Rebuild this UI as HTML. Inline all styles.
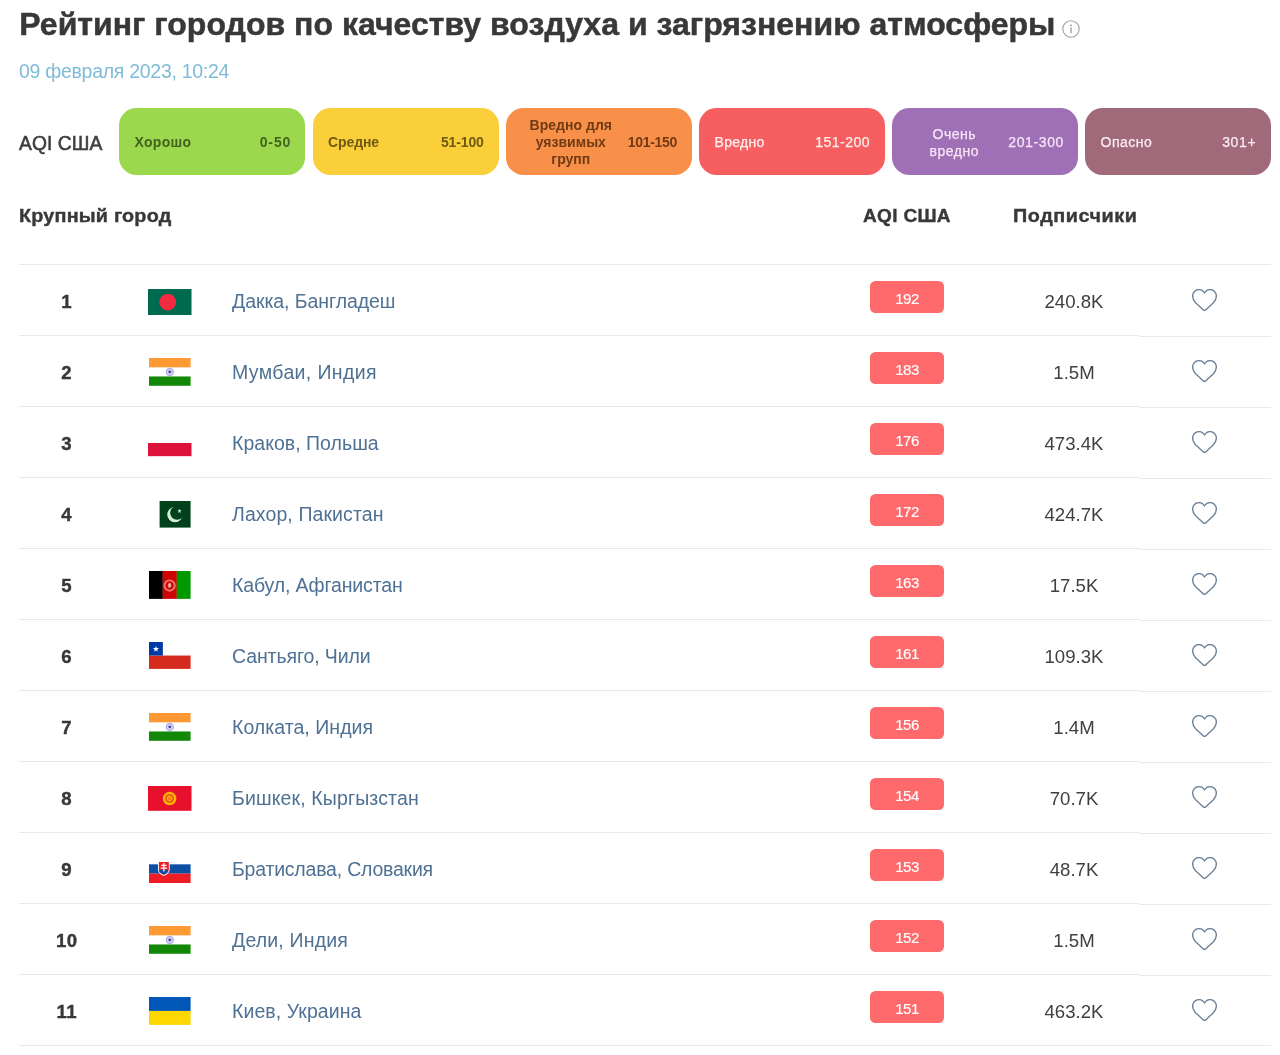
<!DOCTYPE html>
<html lang="ru">
<head>
<meta charset="utf-8">
<title>Рейтинг городов по качеству воздуха</title>
<style>
*{box-sizing:border-box;margin:0;padding:0}
html,body{width:1280px;height:1055px;background:#fff;overflow:hidden}
body{position:relative;font-family:"Liberation Sans",sans-serif;color:#3b3b3b}
h1{position:absolute;left:19.300px;top:4.400px;font-size:32px;line-height:40px;font-weight:bold;color:#383838;white-space:nowrap;letter-spacing:0.020px;-webkit-text-stroke:0.500px #383838}
.info{position:absolute;left:1061.600px;top:19.700px}
.date{position:absolute;left:19px;top:57.500px;font-size:19.500px;line-height:26px;color:#7fbcd8;white-space:nowrap;letter-spacing:-0.290px}
.lgt{position:absolute;left:19px;top:131.200px;font-size:19.300px;line-height:26px;color:#3e3e3e;white-space:nowrap;-webkit-text-stroke:0.550px #3e3e3e;letter-spacing:0.050px}
.lg{position:absolute;top:108px;width:186px;height:67px;border-radius:17.500px;font-size:14px;font-weight:bold;display:flex;align-items:center;justify-content:space-between;padding:2.500px 15px 0 15.500px;line-height:17.200px;letter-spacing:0.300px}
.lg.lt{font-weight:normal;-webkit-text-stroke:0.250px currentColor;letter-spacing:0.500px}
.lg .n.m{text-align:center;width:97px}
.th{position:absolute;top:203px;font-size:19px;line-height:26px;font-weight:bold;color:#383838;white-space:nowrap;-webkit-text-stroke:0.400px #383838}
.ln{position:absolute;left:19px;width:1252px;height:1px;background:#e9e9e9}
.row{position:absolute;left:0;width:1280px;height:71px}
.rk{position:absolute;left:36.700px;width:60px;top:25px;text-align:center;font-size:18.600px;letter-spacing:0.300px;line-height:26px;font-weight:bold;color:#383838;-webkit-text-stroke:0.400px #383838}
.fl{position:absolute;display:block}
.ct{position:absolute;left:232px;top:24px;font-size:19.500px;line-height:26px;color:#4f7194;white-space:nowrap}
.bd{position:absolute;left:870px;top:17.300px;width:74px;height:32px;border-radius:5.500px;background:#fe6a6b;color:#fff;font-size:15px;line-height:35.200px;text-align:center;letter-spacing:-0.450px;-webkit-text-stroke:0.150px #fff}
.fo{position:absolute;left:1014px;width:120px;top:24.500px;text-align:center;font-size:18.600px;line-height:26px;color:#3f3f3f}
.heart{position:absolute;left:1192.200px;top:25.100px}
</style>
</head>
<body>
<h1>Рейтинг городов по качеству воздуха и загрязнению атмосферы</h1>
<svg class="info" width="18" height="18" viewBox="0 0 18 18"><circle cx="9" cy="9" r="8.200" fill="none" stroke="#9aa0a6" stroke-width="1.100"/><rect x="8.400" y="7.600" width="1.200" height="5.600" fill="#8a9096"/><circle cx="9" cy="5.300" r="0.900" fill="#8a9096"/></svg>
<div class="date">09 февраля 2023, 10:24</div>
<div class="lgt">AQI США</div>
<div class="lg" style="left:119px;background:#9cd84e;color:#42621d"><span class="n" style="letter-spacing:0.32px">Хорошо</span><span class="r" style="letter-spacing:0.9px;margin-right:-1.30px">0-50</span></div>
<div class="lg" style="left:312.5px;background:#facf39;color:#705914"><span class="n" style="letter-spacing:-0.1px">Средне</span><span class="r" style="letter-spacing:-0.12px;margin-right:-0.28px">51-100</span></div>
<div class="lg" style="left:506px;background:#f99049;color:#703a15"><span class="n m" style="margin-left:0.800px;letter-spacing:0.03px">Вредно для<br>уязвимых<br>групп</span><span class="r" style="letter-spacing:-0.28px;margin-right:-0.12px">101-150</span></div>
<div class="lg lt" style="left:699px;background:#f65e5f;color:#fff0f0"><span class="n" style="letter-spacing:0.3px">Вредно</span><span class="r" style="letter-spacing:0.5px;margin-right:-0.10px">151-200</span></div>
<div class="lg lt" style="left:892px;background:#a070b6;color:#f6e6f8"><span class="n m" style="margin-left:-1.700px;letter-spacing:0.55px">Очень<br>вредно</span><span class="r" style="letter-spacing:0.63px;margin-right:-1.03px">201-300</span></div>
<div class="lg lt" style="left:1085px;background:#a06a7b;color:#f9eef2"><span class="n" style="letter-spacing:0.5px">Опасно</span><span class="r" style="letter-spacing:0.63px;margin-right:-0.23px">301+</span></div>
<div class="th" style="left:19px;transform:scaleX(1.04);transform-origin:0 0;letter-spacing:0.2px">Крупный город</div>
<div class="th" style="left:863px;letter-spacing:0.33px">AQI США</div>
<div class="th" style="left:1012.5px;transform:scaleX(1.04);transform-origin:0 0;letter-spacing:0.55px">Подписчики</div>
<div class="ln" style="top:264px"></div>
<div class="ln" style="top:335px;width:1120px"></div><div class="ln" style="top:336px;left:1139px;width:132px"></div>
<div class="ln" style="top:406px;width:1120px"></div><div class="ln" style="top:407px;left:1139px;width:132px"></div>
<div class="ln" style="top:477px;width:1120px"></div><div class="ln" style="top:478px;left:1139px;width:132px"></div>
<div class="ln" style="top:548px;width:1120px"></div><div class="ln" style="top:549px;left:1139px;width:132px"></div>
<div class="ln" style="top:619px;width:1120px"></div><div class="ln" style="top:620px;left:1139px;width:132px"></div>
<div class="ln" style="top:690px;width:1120px"></div><div class="ln" style="top:691px;left:1139px;width:132px"></div>
<div class="ln" style="top:761px;width:1120px"></div><div class="ln" style="top:762px;left:1139px;width:132px"></div>
<div class="ln" style="top:832px;width:1120px"></div><div class="ln" style="top:833px;left:1139px;width:132px"></div>
<div class="ln" style="top:903px;width:1120px"></div><div class="ln" style="top:904px;left:1139px;width:132px"></div>
<div class="ln" style="top:974px;width:1120px"></div><div class="ln" style="top:975px;left:1139px;width:132px"></div>
<div class="ln" style="top:1045px"></div>
<div class="row" style="top:264px"><div class="rk">1</div><svg class="fl" style="left:148.1px;top:24.75px" width="43.5" height="26" viewBox="0 0 43.5 26" preserveAspectRatio="none"><rect width="43.5" height="26" fill="#006a4e"/><circle cx="19.700" cy="13.100" r="8.400" fill="#f42a41"/></svg><div class="ct" style="letter-spacing:-0.06px">Дакка, Бангладеш</div><div class="bd">192</div><div class="fo">240.8K</div><svg class="heart" viewBox="0 0 25 22" width="25" height="22"><path d="M12.5 4C11.4 2.100 9.300 0.650 6.900 0.650C3.400 0.650 0.650 3.400 0.650 6.900C0.650 9.600 1.900 12 3.600 13.700L11.100 20.700C11.900 21.500 13.100 21.500 13.900 20.700L21.400 13.700C23.100 12 24.350 9.600 24.350 6.900C24.350 3.400 21.600 0.650 18.100 0.650C15.700 0.650 13.600 2.100 12.500 4Z" fill="none" stroke="#6b8198" stroke-width="1.350" stroke-linejoin="round"/></svg></div>
<div class="row" style="top:335px"><div class="rk">2</div><svg class="fl" style="left:149px;top:23.20px" width="41.6" height="27.8" viewBox="0 0 42 28" preserveAspectRatio="none"><rect width="42" height="28" fill="#fff"/><rect width="42" height="9.400" fill="#ff9933"/><rect y="18.600" width="42" height="9.400" fill="#138808"/><circle cx="21" cy="14" r="3.700" fill="#d4d4f2" stroke="#9c9cdc" stroke-width="0.900"/><circle cx="21" cy="14" r="1.400" fill="#4545a8"/></svg><div class="ct" style="letter-spacing:0.37px">Мумбаи, Индия</div><div class="bd">183</div><div class="fo">1.5M</div><svg class="heart" viewBox="0 0 25 22" width="25" height="22"><path d="M12.5 4C11.4 2.100 9.300 0.650 6.900 0.650C3.400 0.650 0.650 3.400 0.650 6.900C0.650 9.600 1.900 12 3.600 13.700L11.100 20.700C11.900 21.500 13.100 21.500 13.900 20.700L21.400 13.700C23.100 12 24.350 9.600 24.350 6.900C24.350 3.400 21.600 0.650 18.100 0.650C15.700 0.650 13.600 2.100 12.500 4Z" fill="none" stroke="#6b8198" stroke-width="1.350" stroke-linejoin="round"/></svg></div>
<div class="row" style="top:406px"><div class="rk">3</div><svg class="fl" style="left:148.1px;top:23.40px" width="43.5" height="27.2" viewBox="0 0 43.5 27.2" preserveAspectRatio="none"><rect width="43.5" height="14" fill="#fff"/><rect y="14" width="43.5" height="13.200" fill="#dc143c"/></svg><div class="ct" style="letter-spacing:0.03px">Краков, Польша</div><div class="bd">176</div><div class="fo">473.4K</div><svg class="heart" viewBox="0 0 25 22" width="25" height="22"><path d="M12.5 4C11.4 2.100 9.300 0.650 6.900 0.650C3.400 0.650 0.650 3.400 0.650 6.900C0.650 9.600 1.900 12 3.600 13.700L11.100 20.700C11.900 21.500 13.100 21.500 13.900 20.700L21.400 13.700C23.100 12 24.350 9.600 24.350 6.900C24.350 3.400 21.600 0.650 18.100 0.650C15.700 0.650 13.600 2.100 12.500 4Z" fill="none" stroke="#6b8198" stroke-width="1.350" stroke-linejoin="round"/></svg></div>
<div class="row" style="top:477px"><div class="rk">4</div><svg class="fl" style="left:149px;top:24.00px" width="41.6" height="26.6" viewBox="0 0 42 27" preserveAspectRatio="none"><rect width="42" height="27" fill="#fff"/><rect x="10.700" width="31.300" height="27" fill="#01411c"/><circle cx="26.200" cy="13.800" r="7.800" fill="#d6f0d8"/><circle cx="28.300" cy="12" r="7" fill="#01411c"/><polygon points="30.800,7.900 31.350,9.500 33,9.500 31.650,10.500 32.150,12.100 30.800,11.150 29.450,12.100 29.950,10.500 28.600,9.500 30.250,9.500" fill="#d6f0d8"/></svg><div class="ct" style="letter-spacing:0.1px">Лахор, Пакистан</div><div class="bd">172</div><div class="fo">424.7K</div><svg class="heart" viewBox="0 0 25 22" width="25" height="22"><path d="M12.5 4C11.4 2.100 9.300 0.650 6.900 0.650C3.400 0.650 0.650 3.400 0.650 6.900C0.650 9.600 1.900 12 3.600 13.700L11.100 20.700C11.900 21.500 13.100 21.500 13.900 20.700L21.400 13.700C23.100 12 24.350 9.600 24.350 6.900C24.350 3.400 21.600 0.650 18.100 0.650C15.700 0.650 13.600 2.100 12.500 4Z" fill="none" stroke="#6b8198" stroke-width="1.350" stroke-linejoin="round"/></svg></div>
<div class="row" style="top:548px"><div class="rk">5</div><svg class="fl" style="left:149px;top:23.10px" width="41.6" height="27.9" viewBox="0 0 42 28" preserveAspectRatio="none"><rect width="14" height="28" fill="#000"/><rect x="13.800" width="14.400" height="28" fill="#cf0505"/><rect x="28" width="14" height="28" fill="#009a00"/><circle cx="20.800" cy="14.600" r="5.200" fill="none" stroke="#ea7c6e" stroke-width="1.900"/><circle cx="20.800" cy="14.900" r="1.900" fill="#ee9a8e"/><circle cx="20.800" cy="13.100" r="1" fill="#fde4de"/></svg><div class="ct" style="letter-spacing:-0.14px">Кабул, Афганистан</div><div class="bd">163</div><div class="fo">17.5K</div><svg class="heart" viewBox="0 0 25 22" width="25" height="22"><path d="M12.5 4C11.4 2.100 9.300 0.650 6.900 0.650C3.400 0.650 0.650 3.400 0.650 6.900C0.650 9.600 1.900 12 3.600 13.700L11.100 20.700C11.900 21.500 13.100 21.500 13.900 20.700L21.400 13.700C23.100 12 24.350 9.600 24.350 6.900C24.350 3.400 21.600 0.650 18.100 0.650C15.700 0.650 13.600 2.100 12.500 4Z" fill="none" stroke="#6b8198" stroke-width="1.350" stroke-linejoin="round"/></svg></div>
<div class="row" style="top:619px"><div class="rk">6</div><svg class="fl" style="left:149px;top:23.40px" width="41.6" height="26.9" viewBox="0 0 42 27" preserveAspectRatio="none"><rect width="42" height="27" fill="#fff"/><rect y="13.600" width="42" height="13.400" fill="#d52b1e"/><rect width="14" height="13.600" fill="#0039a6"/><polygon points="7,3.900 7.800,6.100 10.100,6.100 8.250,7.500 8.950,9.700 7,8.350 5.050,9.700 5.750,7.500 3.900,6.100 6.200,6.100" fill="#fff"/></svg><div class="ct" style="letter-spacing:-0.11px">Сантьяго, Чили</div><div class="bd">161</div><div class="fo">109.3K</div><svg class="heart" viewBox="0 0 25 22" width="25" height="22"><path d="M12.5 4C11.4 2.100 9.300 0.650 6.900 0.650C3.400 0.650 0.650 3.400 0.650 6.900C0.650 9.600 1.900 12 3.600 13.700L11.100 20.700C11.900 21.500 13.100 21.500 13.900 20.700L21.400 13.700C23.100 12 24.350 9.600 24.350 6.900C24.350 3.400 21.600 0.650 18.100 0.650C15.700 0.650 13.600 2.100 12.500 4Z" fill="none" stroke="#6b8198" stroke-width="1.350" stroke-linejoin="round"/></svg></div>
<div class="row" style="top:690px"><div class="rk">7</div><svg class="fl" style="left:149px;top:23.20px" width="41.6" height="27.8" viewBox="0 0 42 28" preserveAspectRatio="none"><rect width="42" height="28" fill="#fff"/><rect width="42" height="9.400" fill="#ff9933"/><rect y="18.600" width="42" height="9.400" fill="#138808"/><circle cx="21" cy="14" r="3.700" fill="#d4d4f2" stroke="#9c9cdc" stroke-width="0.900"/><circle cx="21" cy="14" r="1.400" fill="#4545a8"/></svg><div class="ct" style="letter-spacing:0.04px">Колката, Индия</div><div class="bd">156</div><div class="fo">1.4M</div><svg class="heart" viewBox="0 0 25 22" width="25" height="22"><path d="M12.5 4C11.4 2.100 9.300 0.650 6.900 0.650C3.400 0.650 0.650 3.400 0.650 6.900C0.650 9.600 1.900 12 3.600 13.700L11.100 20.700C11.900 21.500 13.100 21.500 13.900 20.700L21.400 13.700C23.100 12 24.350 9.600 24.350 6.900C24.350 3.400 21.600 0.650 18.100 0.650C15.700 0.650 13.600 2.100 12.500 4Z" fill="none" stroke="#6b8198" stroke-width="1.350" stroke-linejoin="round"/></svg></div>
<div class="row" style="top:761px"><div class="rk">8</div><svg class="fl" style="left:148.1px;top:25.00px" width="43.5" height="24.8" viewBox="0 0 43.5 24.8" preserveAspectRatio="none"><rect width="43.5" height="24.800" fill="#e8112d"/><circle cx="21.600" cy="12.500" r="6.800" fill="#ffb300"/><circle cx="21.600" cy="12.500" r="3.600" fill="none" stroke="#e8391d" stroke-width="1.300"/><path d="M19.600 10.500l4 4m0-4l-4 4" stroke="#e8591d" stroke-width="0.800"/></svg><div class="ct" style="letter-spacing:0.13px">Бишкек, Кыргызстан</div><div class="bd">154</div><div class="fo">70.7K</div><svg class="heart" viewBox="0 0 25 22" width="25" height="22"><path d="M12.5 4C11.4 2.100 9.300 0.650 6.900 0.650C3.400 0.650 0.650 3.400 0.650 6.900C0.650 9.600 1.900 12 3.600 13.700L11.100 20.700C11.900 21.500 13.100 21.500 13.900 20.700L21.400 13.700C23.100 12 24.350 9.600 24.350 6.900C24.350 3.400 21.600 0.650 18.100 0.650C15.700 0.650 13.600 2.100 12.500 4Z" fill="none" stroke="#6b8198" stroke-width="1.350" stroke-linejoin="round"/></svg></div>
<div class="row" style="top:832px"><div class="rk">9</div><svg class="fl" style="left:149px;top:22.70px" width="41.6" height="28" viewBox="0 0 42 28" preserveAspectRatio="none"><rect width="42" height="28" fill="#fff"/><rect y="9.330" width="42" height="9.340" fill="#0b4ea2"/><rect y="18.670" width="42" height="9.330" fill="#ee1c25"/><path d="M9.100 6.300h11.800v8.200c0 3.400-3.400 5.400-5.900 6.600-2.500-1.200-5.900-3.200-5.900-6.600z" fill="#fff"/><path d="M10 6.900h10v7.500c0 2.800-2.800 4.500-5 5.500-2.200-1-5-2.700-5-5.500z" fill="#ee1c25"/><path d="M10.300 15.900c1-1.400 2.500-1.600 3.300-.8.600-1 1.800-1 2.400 0 .8-.8 2.300-.6 3.300.8-.8 1.700-2.800 2.800-4.500 3.600-1.700-.8-3.700-1.900-4.500-3.600z" fill="#0b4ea2"/><path d="M14.350 7.900h1.300v1.900h2v1.250h-2v1.400h2.600v1.250h-2.600v2.900h-1.300v-2.900h-2.600v-1.250h2.600v-1.400h-2v-1.250h2z" fill="#fff"/></svg><div class="ct" style="letter-spacing:-0.21px">Братислава, Словакия</div><div class="bd">153</div><div class="fo">48.7K</div><svg class="heart" viewBox="0 0 25 22" width="25" height="22"><path d="M12.5 4C11.4 2.100 9.300 0.650 6.900 0.650C3.400 0.650 0.650 3.400 0.650 6.900C0.650 9.600 1.900 12 3.600 13.700L11.100 20.700C11.900 21.500 13.100 21.500 13.900 20.700L21.400 13.700C23.100 12 24.350 9.600 24.350 6.900C24.350 3.400 21.600 0.650 18.100 0.650C15.700 0.650 13.600 2.100 12.500 4Z" fill="none" stroke="#6b8198" stroke-width="1.350" stroke-linejoin="round"/></svg></div>
<div class="row" style="top:903px"><div class="rk">10</div><svg class="fl" style="left:149px;top:23.20px" width="41.6" height="27.8" viewBox="0 0 42 28" preserveAspectRatio="none"><rect width="42" height="28" fill="#fff"/><rect width="42" height="9.400" fill="#ff9933"/><rect y="18.600" width="42" height="9.400" fill="#138808"/><circle cx="21" cy="14" r="3.700" fill="#d4d4f2" stroke="#9c9cdc" stroke-width="0.900"/><circle cx="21" cy="14" r="1.400" fill="#4545a8"/></svg><div class="ct" style="letter-spacing:0.17px">Дели, Индия</div><div class="bd">152</div><div class="fo">1.5M</div><svg class="heart" viewBox="0 0 25 22" width="25" height="22"><path d="M12.5 4C11.4 2.100 9.300 0.650 6.900 0.650C3.400 0.650 0.650 3.400 0.650 6.900C0.650 9.600 1.900 12 3.600 13.700L11.100 20.700C11.900 21.500 13.100 21.500 13.900 20.700L21.400 13.700C23.100 12 24.350 9.600 24.350 6.900C24.350 3.400 21.600 0.650 18.100 0.650C15.700 0.650 13.600 2.100 12.500 4Z" fill="none" stroke="#6b8198" stroke-width="1.350" stroke-linejoin="round"/></svg></div>
<div class="row" style="top:974px"><div class="rk">11</div><svg class="fl" style="left:149px;top:23.10px" width="41.6" height="27.9" viewBox="0 0 42 28" preserveAspectRatio="none"><rect width="42" height="14" fill="#0057b7"/><rect y="14" width="42" height="14" fill="#ffd700"/></svg><div class="ct" style="letter-spacing:0.07px">Киев, Украина</div><div class="bd">151</div><div class="fo">463.2K</div><svg class="heart" viewBox="0 0 25 22" width="25" height="22"><path d="M12.5 4C11.4 2.100 9.300 0.650 6.900 0.650C3.400 0.650 0.650 3.400 0.650 6.900C0.650 9.600 1.900 12 3.600 13.700L11.100 20.700C11.900 21.500 13.100 21.500 13.900 20.700L21.400 13.700C23.100 12 24.350 9.600 24.350 6.900C24.350 3.400 21.600 0.650 18.100 0.650C15.700 0.650 13.600 2.100 12.500 4Z" fill="none" stroke="#6b8198" stroke-width="1.350" stroke-linejoin="round"/></svg></div>
</body>
</html>
